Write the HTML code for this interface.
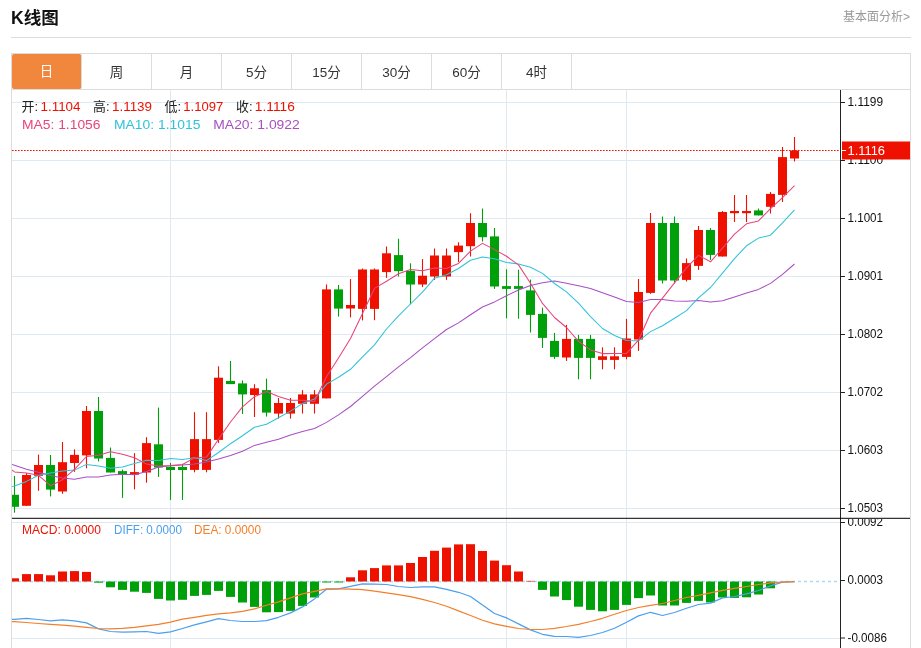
<!DOCTYPE html>
<html lang="zh-CN"><head><meta charset="utf-8"><title>K线图</title>
<style>
html,body{margin:0;padding:0;background:#fff;}
body{width:921px;height:648px;position:relative;overflow:hidden;font-family:"Liberation Sans","Noto Sans CJK SC",sans-serif;color:#333;}
.title{position:absolute;left:11px;top:7.3px;font-size:17.6px;font-weight:bold;color:#111;line-height:22px;white-space:nowrap;}
.more{position:absolute;right:11px;top:9px;font-size:12px;color:#999;line-height:16px;white-space:nowrap;}
.hr{position:absolute;left:11px;top:37px;width:900px;height:1px;background:#dcdcdc;}
.box{position:absolute;left:11px;top:53px;width:898px;height:600px;border:1px solid #dcdcdc;box-sizing:content-box;}
.tabs{position:absolute;left:12px;top:54px;width:898px;height:35px;border-bottom:1px solid #dcdcdc;display:flex;}
.tab{width:69px;height:35px;border-right:1px solid #dcdcdc;text-align:center;line-height:37.5px;font-size:13.5px;color:#333;}
.tab.on{background:#f0873c;color:#fff;border-radius:2px;line-height:36.5px;}
</style></head><body>
<div class="title">K线图</div>
<div class="more">基本面分析&gt;</div>
<div class="hr"></div>
<div class="box"></div>
<div class="tabs"><div class="tab on">日</div><div class="tab">周</div><div class="tab">月</div><div class="tab">5分</div><div class="tab">15分</div><div class="tab">30分</div><div class="tab">60分</div><div class="tab">4时</div></div>
<svg width="921" height="648" viewBox="0 0 921 648" style="position:absolute;left:0;top:0">
<defs><clipPath id="cm"><rect x="12" y="90" width="828.5" height="428"/></clipPath><clipPath id="cd"><rect x="12" y="519" width="828.5" height="129"/></clipPath><clipPath id="cl"><rect x="842" y="519" width="68" height="129"/></clipPath></defs>
<line x1="12" x2="840" y1="102.5" y2="102.5" stroke="#dfe9f1" stroke-width="1"/>
<line x1="12" x2="840" y1="160.5" y2="160.5" stroke="#dfe9f1" stroke-width="1"/>
<line x1="12" x2="840" y1="218.5" y2="218.5" stroke="#dfe9f1" stroke-width="1"/>
<line x1="12" x2="840" y1="276.5" y2="276.5" stroke="#dfe9f1" stroke-width="1"/>
<line x1="12" x2="840" y1="334.5" y2="334.5" stroke="#dfe9f1" stroke-width="1"/>
<line x1="12" x2="840" y1="392.5" y2="392.5" stroke="#dfe9f1" stroke-width="1"/>
<line x1="12" x2="840" y1="450.5" y2="450.5" stroke="#dfe9f1" stroke-width="1"/>
<line x1="12" x2="840" y1="508.5" y2="508.5" stroke="#dfe9f1" stroke-width="1"/>
<line x1="12" x2="840" y1="522.5" y2="522.5" stroke="#dfe9f1" stroke-width="1"/>
<line x1="12" x2="840" y1="638.5" y2="638.5" stroke="#dfe9f1" stroke-width="1"/>
<line x1="170.5" x2="170.5" y1="90" y2="648" stroke="#dfe9f1" stroke-width="1"/>
<line x1="506.5" x2="506.5" y1="90" y2="648" stroke="#dfe9f1" stroke-width="1"/>
<line x1="626.5" x2="626.5" y1="90" y2="648" stroke="#dfe9f1" stroke-width="1"/>
<line x1="12" x2="840" y1="581.5" y2="581.5" stroke="#a9dcf3" stroke-width="1.4" stroke-dasharray="3,3"/>
<g clip-path="url(#cm)" shape-rendering="auto">
<line x1="14.5" x2="14.5" y1="475.9" y2="512.7" stroke="#00a00a" stroke-width="1.1"/>
<rect x="10.0" y="494.8" width="9" height="12.0" fill="#00a00a"/>
<line x1="26.5" x2="26.5" y1="473.0" y2="505.8" stroke="#ee1100" stroke-width="1.1"/>
<rect x="22.0" y="475.0" width="9" height="30.8" fill="#ee1100"/>
<line x1="38.5" x2="38.5" y1="454.6" y2="490.8" stroke="#ee1100" stroke-width="1.1"/>
<rect x="34.0" y="465.0" width="9" height="10.8" fill="#ee1100"/>
<line x1="50.5" x2="50.5" y1="455.0" y2="496.4" stroke="#00a00a" stroke-width="1.1"/>
<rect x="46.0" y="465.0" width="9" height="24.6" fill="#00a00a"/>
<line x1="62.5" x2="62.5" y1="442.0" y2="493.8" stroke="#ee1100" stroke-width="1.1"/>
<rect x="58.0" y="462.2" width="9" height="29.3" fill="#ee1100"/>
<line x1="74.5" x2="74.5" y1="449.4" y2="471.9" stroke="#ee1100" stroke-width="1.1"/>
<rect x="70.0" y="454.9" width="9" height="8.1" fill="#ee1100"/>
<line x1="86.5" x2="86.5" y1="406.0" y2="468.3" stroke="#ee1100" stroke-width="1.1"/>
<rect x="82.0" y="411.0" width="9" height="44.4" fill="#ee1100"/>
<line x1="98.5" x2="98.5" y1="397.0" y2="461.5" stroke="#00a00a" stroke-width="1.1"/>
<rect x="94.0" y="411.0" width="9" height="47.5" fill="#00a00a"/>
<line x1="110.5" x2="110.5" y1="447.5" y2="472.5" stroke="#00a00a" stroke-width="1.1"/>
<rect x="106.0" y="457.9" width="9" height="14.6" fill="#00a00a"/>
<line x1="122.5" x2="122.5" y1="469.5" y2="497.9" stroke="#00a00a" stroke-width="1.1"/>
<rect x="118.0" y="471.1" width="9" height="3.2" fill="#00a00a"/>
<line x1="134.5" x2="134.5" y1="453.1" y2="489.3" stroke="#ee1100" stroke-width="1.1"/>
<rect x="130.0" y="472.1" width="9" height="2.6" fill="#ee1100"/>
<line x1="146.5" x2="146.5" y1="437.2" y2="482.7" stroke="#ee1100" stroke-width="1.1"/>
<rect x="142.0" y="443.1" width="9" height="29.4" fill="#ee1100"/>
<line x1="158.5" x2="158.5" y1="407.6" y2="476.9" stroke="#00a00a" stroke-width="1.1"/>
<rect x="154.0" y="444.3" width="9" height="23.2" fill="#00a00a"/>
<line x1="170.5" x2="170.5" y1="462.9" y2="499.9" stroke="#00a00a" stroke-width="1.1"/>
<rect x="166.0" y="466.9" width="9" height="3.1" fill="#00a00a"/>
<line x1="182.5" x2="182.5" y1="463.9" y2="499.9" stroke="#00a00a" stroke-width="1.1"/>
<rect x="178.0" y="466.9" width="9" height="3.1" fill="#00a00a"/>
<line x1="194.5" x2="194.5" y1="412.2" y2="472.3" stroke="#ee1100" stroke-width="1.1"/>
<rect x="190.0" y="439.1" width="9" height="30.8" fill="#ee1100"/>
<line x1="206.5" x2="206.5" y1="412.2" y2="472.3" stroke="#ee1100" stroke-width="1.1"/>
<rect x="202.0" y="439.1" width="9" height="30.8" fill="#ee1100"/>
<line x1="218.5" x2="218.5" y1="366.3" y2="442.9" stroke="#ee1100" stroke-width="1.1"/>
<rect x="214.0" y="377.7" width="9" height="62.2" fill="#ee1100"/>
<line x1="230.5" x2="230.5" y1="360.9" y2="384.1" stroke="#00a00a" stroke-width="1.1"/>
<rect x="226.0" y="380.9" width="9" height="3.2" fill="#00a00a"/>
<line x1="242.5" x2="242.5" y1="380.4" y2="414.0" stroke="#00a00a" stroke-width="1.1"/>
<rect x="238.0" y="383.4" width="9" height="11.0" fill="#00a00a"/>
<line x1="254.5" x2="254.5" y1="384.2" y2="417.0" stroke="#ee1100" stroke-width="1.1"/>
<rect x="250.0" y="388.3" width="9" height="6.7" fill="#ee1100"/>
<line x1="266.5" x2="266.5" y1="378.6" y2="416.6" stroke="#00a00a" stroke-width="1.1"/>
<rect x="262.0" y="390.1" width="9" height="22.5" fill="#00a00a"/>
<line x1="278.5" x2="278.5" y1="398.0" y2="418.6" stroke="#ee1100" stroke-width="1.1"/>
<rect x="274.0" y="403.0" width="9" height="10.6" fill="#ee1100"/>
<line x1="290.5" x2="290.5" y1="398.0" y2="418.6" stroke="#ee1100" stroke-width="1.1"/>
<rect x="286.0" y="403.0" width="9" height="10.6" fill="#ee1100"/>
<line x1="302.5" x2="302.5" y1="390.1" y2="413.6" stroke="#ee1100" stroke-width="1.1"/>
<rect x="298.0" y="394.4" width="9" height="9.4" fill="#ee1100"/>
<line x1="314.5" x2="314.5" y1="390.1" y2="413.6" stroke="#ee1100" stroke-width="1.1"/>
<rect x="310.0" y="394.4" width="9" height="9.4" fill="#ee1100"/>
<line x1="326.5" x2="326.5" y1="284.4" y2="398.4" stroke="#ee1100" stroke-width="1.1"/>
<rect x="322.0" y="289.4" width="9" height="109.0" fill="#ee1100"/>
<line x1="338.5" x2="338.5" y1="285.0" y2="316.6" stroke="#00a00a" stroke-width="1.1"/>
<rect x="334.0" y="289.4" width="9" height="19.2" fill="#00a00a"/>
<line x1="350.5" x2="350.5" y1="279.1" y2="317.4" stroke="#ee1100" stroke-width="1.1"/>
<rect x="346.0" y="305.0" width="9" height="3.5" fill="#ee1100"/>
<line x1="362.5" x2="362.5" y1="268.5" y2="320.4" stroke="#ee1100" stroke-width="1.1"/>
<rect x="358.0" y="269.5" width="9" height="39.4" fill="#ee1100"/>
<line x1="374.5" x2="374.5" y1="268.5" y2="320.2" stroke="#ee1100" stroke-width="1.1"/>
<rect x="370.0" y="269.5" width="9" height="39.4" fill="#ee1100"/>
<line x1="386.5" x2="386.5" y1="246.6" y2="277.9" stroke="#ee1100" stroke-width="1.1"/>
<rect x="382.0" y="253.3" width="9" height="18.8" fill="#ee1100"/>
<line x1="398.5" x2="398.5" y1="238.8" y2="276.5" stroke="#00a00a" stroke-width="1.1"/>
<rect x="394.0" y="255.1" width="9" height="16.0" fill="#00a00a"/>
<line x1="410.5" x2="410.5" y1="263.3" y2="304.3" stroke="#00a00a" stroke-width="1.1"/>
<rect x="406.0" y="270.9" width="9" height="13.6" fill="#00a00a"/>
<line x1="422.5" x2="422.5" y1="259.1" y2="287.1" stroke="#ee1100" stroke-width="1.1"/>
<rect x="418.0" y="275.7" width="9" height="8.8" fill="#ee1100"/>
<line x1="434.5" x2="434.5" y1="248.4" y2="279.9" stroke="#ee1100" stroke-width="1.1"/>
<rect x="430.0" y="255.5" width="9" height="21.0" fill="#ee1100"/>
<line x1="446.5" x2="446.5" y1="248.4" y2="279.9" stroke="#ee1100" stroke-width="1.1"/>
<rect x="442.0" y="255.5" width="9" height="21.0" fill="#ee1100"/>
<line x1="458.5" x2="458.5" y1="242.2" y2="261.9" stroke="#ee1100" stroke-width="1.1"/>
<rect x="454.0" y="245.6" width="9" height="6.5" fill="#ee1100"/>
<line x1="470.5" x2="470.5" y1="213.2" y2="256.5" stroke="#ee1100" stroke-width="1.1"/>
<rect x="466.0" y="223.0" width="9" height="23.2" fill="#ee1100"/>
<line x1="482.5" x2="482.5" y1="208.4" y2="241.4" stroke="#00a00a" stroke-width="1.1"/>
<rect x="478.0" y="223.0" width="9" height="14.2" fill="#00a00a"/>
<line x1="494.5" x2="494.5" y1="228.0" y2="288.9" stroke="#00a00a" stroke-width="1.1"/>
<rect x="490.0" y="236.4" width="9" height="50.1" fill="#00a00a"/>
<line x1="506.5" x2="506.5" y1="269.3" y2="318.3" stroke="#00a00a" stroke-width="1.1"/>
<rect x="502.0" y="286.1" width="9" height="2.8" fill="#00a00a"/>
<line x1="518.5" x2="518.5" y1="269.7" y2="318.7" stroke="#00a00a" stroke-width="1.1"/>
<rect x="514.0" y="286.1" width="9" height="2.8" fill="#00a00a"/>
<line x1="530.5" x2="530.5" y1="279.6" y2="332.5" stroke="#00a00a" stroke-width="1.1"/>
<rect x="526.0" y="290.4" width="9" height="24.5" fill="#00a00a"/>
<line x1="542.5" x2="542.5" y1="307.6" y2="347.9" stroke="#00a00a" stroke-width="1.1"/>
<rect x="538.0" y="313.9" width="9" height="24.0" fill="#00a00a"/>
<line x1="554.5" x2="554.5" y1="332.9" y2="358.9" stroke="#00a00a" stroke-width="1.1"/>
<rect x="550.0" y="340.9" width="9" height="16.0" fill="#00a00a"/>
<line x1="566.5" x2="566.5" y1="324.9" y2="360.9" stroke="#ee1100" stroke-width="1.1"/>
<rect x="562.0" y="338.9" width="9" height="18.6" fill="#ee1100"/>
<line x1="578.5" x2="578.5" y1="334.9" y2="379.3" stroke="#00a00a" stroke-width="1.1"/>
<rect x="574.0" y="338.9" width="9" height="19.0" fill="#00a00a"/>
<line x1="590.5" x2="590.5" y1="334.9" y2="379.3" stroke="#00a00a" stroke-width="1.1"/>
<rect x="586.0" y="338.9" width="9" height="19.0" fill="#00a00a"/>
<line x1="602.5" x2="602.5" y1="347.3" y2="369.3" stroke="#ee1100" stroke-width="1.1"/>
<rect x="598.0" y="356.3" width="9" height="3.6" fill="#ee1100"/>
<line x1="614.5" x2="614.5" y1="347.3" y2="369.3" stroke="#ee1100" stroke-width="1.1"/>
<rect x="610.0" y="356.3" width="9" height="3.6" fill="#ee1100"/>
<line x1="626.5" x2="626.5" y1="318.9" y2="359.3" stroke="#ee1100" stroke-width="1.1"/>
<rect x="622.0" y="338.5" width="9" height="18.4" fill="#ee1100"/>
<line x1="638.5" x2="638.5" y1="279.0" y2="350.9" stroke="#ee1100" stroke-width="1.1"/>
<rect x="634.0" y="292.0" width="9" height="47.5" fill="#ee1100"/>
<line x1="650.5" x2="650.5" y1="213.0" y2="293.9" stroke="#ee1100" stroke-width="1.1"/>
<rect x="646.0" y="223.0" width="9" height="69.9" fill="#ee1100"/>
<line x1="662.5" x2="662.5" y1="216.4" y2="283.5" stroke="#00a00a" stroke-width="1.1"/>
<rect x="658.0" y="223.0" width="9" height="57.5" fill="#00a00a"/>
<line x1="674.5" x2="674.5" y1="216.4" y2="283.5" stroke="#00a00a" stroke-width="1.1"/>
<rect x="670.0" y="223.0" width="9" height="57.5" fill="#00a00a"/>
<line x1="686.5" x2="686.5" y1="258.5" y2="281.5" stroke="#ee1100" stroke-width="1.1"/>
<rect x="682.0" y="263.1" width="9" height="16.8" fill="#ee1100"/>
<line x1="698.5" x2="698.5" y1="226.0" y2="269.9" stroke="#ee1100" stroke-width="1.1"/>
<rect x="694.0" y="230.0" width="9" height="35.9" fill="#ee1100"/>
<line x1="710.5" x2="710.5" y1="228.0" y2="259.9" stroke="#00a00a" stroke-width="1.1"/>
<rect x="706.0" y="230.0" width="9" height="24.9" fill="#00a00a"/>
<line x1="722.5" x2="722.5" y1="211.0" y2="256.5" stroke="#ee1100" stroke-width="1.1"/>
<rect x="718.0" y="212.0" width="9" height="44.5" fill="#ee1100"/>
<line x1="734.5" x2="734.5" y1="195.0" y2="222.0" stroke="#ee1100" stroke-width="1.1"/>
<rect x="730.0" y="211.0" width="9" height="2.2" fill="#ee1100"/>
<line x1="746.5" x2="746.5" y1="195.0" y2="222.0" stroke="#ee1100" stroke-width="1.1"/>
<rect x="742.0" y="211.0" width="9" height="2.2" fill="#ee1100"/>
<line x1="758.5" x2="758.5" y1="208.4" y2="215.4" stroke="#00a00a" stroke-width="1.1"/>
<rect x="754.0" y="210.4" width="9" height="5.0" fill="#00a00a"/>
<line x1="770.5" x2="770.5" y1="191.9" y2="213.4" stroke="#ee1100" stroke-width="1.1"/>
<rect x="766.0" y="193.9" width="9" height="12.9" fill="#ee1100"/>
<line x1="782.5" x2="782.5" y1="146.9" y2="201.9" stroke="#ee1100" stroke-width="1.1"/>
<rect x="778.0" y="157.1" width="9" height="37.8" fill="#ee1100"/>
<line x1="794.5" x2="794.5" y1="137.0" y2="161.5" stroke="#ee1100" stroke-width="1.1"/>
<rect x="790.0" y="150.5" width="9" height="8.0" fill="#ee1100"/>
<polyline points="2.5,461.6 14.5,465.2 26.5,469.2 38.5,472.3 50.5,475.6 62.5,478.0 74.5,479.2 86.5,477.0 98.5,476.9 110.5,474.9 122.5,474.3 134.5,474.7 146.5,471.5 158.5,466.9 170.5,465.7 182.5,465.0 194.5,463.9 206.5,461.9 218.5,458.9 230.5,455.5 242.5,451.3 254.5,445.4 266.5,442.3 278.5,439.2 290.5,434.9 302.5,431.5 314.5,428.5 326.5,422.4 338.5,414.9 350.5,406.5 362.5,396.3 374.5,386.1 386.5,376.6 398.5,366.8 410.5,357.6 422.5,347.8 434.5,338.7 446.5,329.5 458.5,322.9 470.5,314.8 482.5,307.0 494.5,301.9 506.5,295.7 518.5,290.0 530.5,285.6 542.5,282.7 554.5,280.9 566.5,283.3 578.5,285.8 590.5,288.5 602.5,292.8 614.5,297.1 626.5,301.4 638.5,302.4 650.5,299.4 662.5,299.6 674.5,300.9 686.5,301.2 698.5,300.5 710.5,302.1 722.5,300.8 734.5,297.0 746.5,293.1 758.5,289.4 770.5,283.4 782.5,274.4 794.5,264.0" fill="none" stroke="#a84fc4" stroke-width="1.05" stroke-linejoin="round"/>
<polyline points="2.5,487.9 14.5,486.1 26.5,481.4 38.5,475.3 50.5,473.1 62.5,471.1 74.5,470.1 86.5,464.4 98.5,465.9 110.5,468.3 122.5,467.0 134.5,463.5 146.5,460.3 158.5,460.6 170.5,458.6 182.5,459.4 194.5,457.8 206.5,460.6 218.5,452.5 230.5,443.7 242.5,435.7 254.5,427.3 266.5,424.3 278.5,417.8 290.5,411.1 302.5,403.6 314.5,399.1 326.5,384.1 338.5,377.2 350.5,369.3 362.5,356.8 374.5,344.9 386.5,329.0 398.5,315.8 410.5,304.0 422.5,292.1 434.5,278.2 446.5,274.8 458.5,268.5 470.5,260.3 482.5,257.1 494.5,258.8 506.5,262.4 518.5,264.1 530.5,267.2 542.5,273.4 554.5,283.5 566.5,291.9 578.5,303.1 590.5,316.6 602.5,328.5 614.5,335.5 626.5,340.4 638.5,340.8 650.5,331.6 662.5,325.8 674.5,318.2 686.5,310.6 698.5,297.8 710.5,287.5 722.5,273.1 734.5,258.6 746.5,245.8 758.5,238.1 770.5,235.2 782.5,222.9 794.5,209.9" fill="none" stroke="#2fc3da" stroke-width="1.05" stroke-linejoin="round"/>
<polyline points="2.5,463.9 14.5,471.9 26.5,472.9 38.5,475.3 50.5,485.7 62.5,479.7 74.5,469.3 86.5,456.5 98.5,455.2 110.5,451.8 122.5,454.2 134.5,457.7 146.5,464.1 158.5,465.9 170.5,465.4 182.5,464.5 194.5,457.9 206.5,457.1 218.5,439.2 230.5,422.0 242.5,406.9 254.5,396.7 266.5,391.4 278.5,396.5 290.5,400.3 302.5,400.3 314.5,401.5 326.5,376.8 338.5,358.0 350.5,338.4 362.5,313.4 374.5,288.4 386.5,281.2 398.5,273.7 410.5,269.6 422.5,270.8 434.5,268.0 446.5,268.5 458.5,263.4 470.5,251.1 482.5,243.4 494.5,249.6 506.5,256.2 518.5,264.9 530.5,283.3 542.5,303.4 554.5,317.5 566.5,327.5 578.5,341.3 590.5,349.9 602.5,353.6 614.5,353.5 626.5,353.4 638.5,340.2 650.5,313.2 662.5,298.1 674.5,282.9 686.5,267.8 698.5,255.4 710.5,261.8 722.5,248.1 734.5,234.2 746.5,223.8 758.5,220.9 770.5,208.7 782.5,197.7 794.5,185.6" fill="none" stroke="#e8437c" stroke-width="1.05" stroke-linejoin="round"/>
</g>
<line x1="12" x2="840" y1="150.5" y2="150.5" stroke="#ee1100" stroke-width="1" stroke-dasharray="1.6,1.4"/>
<g clip-path="url(#cd)">
<rect x="10.0" y="578.3" width="9" height="3.2" fill="#ee1100"/>
<rect x="22.0" y="574.1" width="9" height="7.4" fill="#ee1100"/>
<rect x="34.0" y="574.1" width="9" height="7.4" fill="#ee1100"/>
<rect x="46.0" y="575.3" width="9" height="6.2" fill="#ee1100"/>
<rect x="58.0" y="571.5" width="9" height="10.0" fill="#ee1100"/>
<rect x="70.0" y="571.1" width="9" height="10.4" fill="#ee1100"/>
<rect x="82.0" y="571.9" width="9" height="9.6" fill="#ee1100"/>
<rect x="94.0" y="581.5" width="9" height="1.2" fill="#00a00a"/>
<rect x="106.0" y="581.5" width="9" height="5.8" fill="#00a00a"/>
<rect x="118.0" y="581.5" width="9" height="8.4" fill="#00a00a"/>
<rect x="130.0" y="581.5" width="9" height="10.2" fill="#00a00a"/>
<rect x="142.0" y="581.5" width="9" height="11.4" fill="#00a00a"/>
<rect x="154.0" y="581.5" width="9" height="17.4" fill="#00a00a"/>
<rect x="166.0" y="581.5" width="9" height="19.0" fill="#00a00a"/>
<rect x="178.0" y="581.5" width="9" height="18.3" fill="#00a00a"/>
<rect x="190.0" y="581.5" width="9" height="14.4" fill="#00a00a"/>
<rect x="202.0" y="581.5" width="9" height="13.4" fill="#00a00a"/>
<rect x="214.0" y="581.5" width="9" height="9.4" fill="#00a00a"/>
<rect x="226.0" y="581.5" width="9" height="15.4" fill="#00a00a"/>
<rect x="238.0" y="581.5" width="9" height="21.0" fill="#00a00a"/>
<rect x="250.0" y="581.5" width="9" height="25.4" fill="#00a00a"/>
<rect x="262.0" y="581.5" width="9" height="30.8" fill="#00a00a"/>
<rect x="274.0" y="581.5" width="9" height="30.6" fill="#00a00a"/>
<rect x="286.0" y="581.5" width="9" height="29.4" fill="#00a00a"/>
<rect x="298.0" y="581.5" width="9" height="24.4" fill="#00a00a"/>
<rect x="310.0" y="581.5" width="9" height="16.0" fill="#00a00a"/>
<rect x="322.0" y="581.5" width="9" height="1.0" fill="#00a00a"/>
<rect x="334.0" y="581.5" width="9" height="1.0" fill="#00a00a"/>
<rect x="346.0" y="577.3" width="9" height="4.2" fill="#ee1100"/>
<rect x="358.0" y="570.3" width="9" height="11.2" fill="#ee1100"/>
<rect x="370.0" y="568.1" width="9" height="13.4" fill="#ee1100"/>
<rect x="382.0" y="565.4" width="9" height="16.1" fill="#ee1100"/>
<rect x="394.0" y="565.4" width="9" height="16.1" fill="#ee1100"/>
<rect x="406.0" y="563.0" width="9" height="18.5" fill="#ee1100"/>
<rect x="418.0" y="557.0" width="9" height="24.5" fill="#ee1100"/>
<rect x="430.0" y="550.8" width="9" height="30.7" fill="#ee1100"/>
<rect x="442.0" y="547.6" width="9" height="33.9" fill="#ee1100"/>
<rect x="454.0" y="544.4" width="9" height="37.1" fill="#ee1100"/>
<rect x="466.0" y="544.2" width="9" height="37.3" fill="#ee1100"/>
<rect x="478.0" y="551.0" width="9" height="30.5" fill="#ee1100"/>
<rect x="490.0" y="560.6" width="9" height="20.9" fill="#ee1100"/>
<rect x="502.0" y="565.2" width="9" height="16.3" fill="#ee1100"/>
<rect x="514.0" y="571.5" width="9" height="10.0" fill="#ee1100"/>
<rect x="526.0" y="580.9" width="9" height="0.6" fill="#ee1100"/>
<rect x="538.0" y="581.5" width="9" height="8.4" fill="#00a00a"/>
<rect x="550.0" y="581.5" width="9" height="15.0" fill="#00a00a"/>
<rect x="562.0" y="581.5" width="9" height="18.6" fill="#00a00a"/>
<rect x="574.0" y="581.5" width="9" height="25.2" fill="#00a00a"/>
<rect x="586.0" y="581.5" width="9" height="28.4" fill="#00a00a"/>
<rect x="598.0" y="581.5" width="9" height="29.8" fill="#00a00a"/>
<rect x="610.0" y="581.5" width="9" height="28.4" fill="#00a00a"/>
<rect x="622.0" y="581.5" width="9" height="23.4" fill="#00a00a"/>
<rect x="634.0" y="581.5" width="9" height="16.6" fill="#00a00a"/>
<rect x="646.0" y="581.5" width="9" height="14.0" fill="#00a00a"/>
<rect x="658.0" y="581.5" width="9" height="24.0" fill="#00a00a"/>
<rect x="670.0" y="581.5" width="9" height="24.0" fill="#00a00a"/>
<rect x="682.0" y="581.5" width="9" height="21.4" fill="#00a00a"/>
<rect x="694.0" y="581.5" width="9" height="19.4" fill="#00a00a"/>
<rect x="706.0" y="581.5" width="9" height="21.0" fill="#00a00a"/>
<rect x="718.0" y="581.5" width="9" height="16.0" fill="#00a00a"/>
<rect x="730.0" y="581.5" width="9" height="16.4" fill="#00a00a"/>
<rect x="742.0" y="581.5" width="9" height="15.8" fill="#00a00a"/>
<rect x="754.0" y="581.5" width="9" height="13.0" fill="#00a00a"/>
<rect x="766.0" y="581.5" width="9" height="6.8" fill="#00a00a"/>
<polyline points="2.5,620.1 14.5,619.3 26.5,618.3 38.5,619.5 50.5,620.9 62.5,619.9 74.5,620.9 86.5,622.9 98.5,628.9 110.5,631.5 122.5,632.1 134.5,631.9 146.5,631.5 158.5,633.3 170.5,631.9 182.5,628.5 194.5,624.9 206.5,621.9 218.5,618.7 230.5,620.5 242.5,621.5 254.5,621.5 266.5,620.7 278.5,617.3 290.5,612.9 302.5,606.9 314.5,598.9 326.5,589.3 338.5,588.9 350.5,586.3 362.5,583.9 374.5,584.1 386.5,584.5 398.5,586.5 410.5,587.5 422.5,586.9 434.5,586.9 446.5,589.3 458.5,592.3 470.5,596.5 482.5,604.9 494.5,613.5 506.5,617.9 518.5,623.9 530.5,629.9 542.5,634.3 554.5,636.3 566.5,636.5 578.5,637.3 590.5,635.5 602.5,632.5 614.5,628.3 626.5,622.3 638.5,615.9 650.5,612.3 662.5,615.5 674.5,612.5 686.5,608.3 698.5,604.5 710.5,603.1 722.5,597.9 734.5,596.5 746.5,593.9 758.5,590.5 770.5,585.9 782.5,582.1 794.5,581.7" fill="none" stroke="#4b9ff0" stroke-width="1.2" stroke-linejoin="round"/>
<polyline points="2.5,621.3 14.5,621.7 26.5,622.5 38.5,623.5 50.5,624.3 62.5,625.1 74.5,626.1 86.5,627.3 98.5,628.5 110.5,628.9 122.5,628.3 134.5,627.3 146.5,625.9 158.5,624.3 170.5,622.1 182.5,619.2 194.5,617.3 206.5,615.3 218.5,613.9 230.5,612.9 242.5,611.3 254.5,608.9 266.5,605.3 278.5,601.9 290.5,597.9 302.5,593.9 314.5,591.3 326.5,588.9 338.5,588.9 350.5,589.1 362.5,589.7 374.5,591.1 386.5,592.9 398.5,594.7 410.5,596.7 422.5,599.3 434.5,602.5 446.5,606.3 458.5,610.9 470.5,615.5 482.5,620.3 494.5,623.9 506.5,626.3 518.5,628.5 530.5,629.5 542.5,629.5 554.5,628.3 566.5,626.5 578.5,624.3 590.5,621.5 602.5,618.3 614.5,614.3 626.5,610.5 638.5,607.5 650.5,605.3 662.5,603.5 674.5,600.5 686.5,597.5 698.5,595.3 710.5,592.9 722.5,590.3 734.5,588.3 746.5,586.5 758.5,584.5 770.5,582.9 782.5,582.1 794.5,581.7" fill="none" stroke="#f47f2a" stroke-width="1.2" stroke-linejoin="round"/>
</g>
<line x1="840.5" x2="840.5" y1="90" y2="648" stroke="#222" stroke-width="1"/>
<line x1="12" x2="910" y1="518.3" y2="518.3" stroke="#000" stroke-width="1"/>
<line x1="840" x2="845" y1="102.5" y2="102.5" stroke="#222" stroke-width="1"/>
<text x="847.5" y="106.3" font-family="Liberation Sans, sans-serif" font-size="12.5" fill="#111" textLength="35.5" lengthAdjust="spacingAndGlyphs">1.1199</text>
<line x1="840" x2="845" y1="160.5" y2="160.5" stroke="#222" stroke-width="1"/>
<text x="847.5" y="164.3" font-family="Liberation Sans, sans-serif" font-size="12.5" fill="#111" textLength="35.5" lengthAdjust="spacingAndGlyphs">1.1100</text>
<line x1="840" x2="845" y1="218.5" y2="218.5" stroke="#222" stroke-width="1"/>
<text x="847.5" y="222.3" font-family="Liberation Sans, sans-serif" font-size="12.5" fill="#111" textLength="35.5" lengthAdjust="spacingAndGlyphs">1.1001</text>
<line x1="840" x2="845" y1="276.5" y2="276.5" stroke="#222" stroke-width="1"/>
<text x="847.5" y="280.3" font-family="Liberation Sans, sans-serif" font-size="12.5" fill="#111" textLength="35.5" lengthAdjust="spacingAndGlyphs">1.0901</text>
<line x1="840" x2="845" y1="334.5" y2="334.5" stroke="#222" stroke-width="1"/>
<text x="847.5" y="338.3" font-family="Liberation Sans, sans-serif" font-size="12.5" fill="#111" textLength="35.5" lengthAdjust="spacingAndGlyphs">1.0802</text>
<line x1="840" x2="845" y1="392.5" y2="392.5" stroke="#222" stroke-width="1"/>
<text x="847.5" y="396.3" font-family="Liberation Sans, sans-serif" font-size="12.5" fill="#111" textLength="35.5" lengthAdjust="spacingAndGlyphs">1.0702</text>
<line x1="840" x2="845" y1="450.5" y2="450.5" stroke="#222" stroke-width="1"/>
<text x="847.5" y="454.3" font-family="Liberation Sans, sans-serif" font-size="12.5" fill="#111" textLength="35.5" lengthAdjust="spacingAndGlyphs">1.0603</text>
<line x1="840" x2="845" y1="508.5" y2="508.5" stroke="#222" stroke-width="1"/>
<text x="847.5" y="512.3" font-family="Liberation Sans, sans-serif" font-size="12.5" fill="#111" textLength="35.5" lengthAdjust="spacingAndGlyphs">1.0503</text>
<g clip-path="url(#cl)">
<text x="847.5" y="526.3" font-family="Liberation Sans, sans-serif" font-size="12.5" fill="#111" textLength="35.5" lengthAdjust="spacingAndGlyphs">0.0092</text>
<text x="847.5" y="584.3" font-family="Liberation Sans, sans-serif" font-size="12.5" fill="#111" textLength="35.5" lengthAdjust="spacingAndGlyphs">0.0003</text>
<text x="847.5" y="641.8" font-family="Liberation Sans, sans-serif" font-size="12.5" fill="#111" textLength="39.5" lengthAdjust="spacingAndGlyphs">-0.0086</text>
</g>
<line x1="840" x2="845" y1="522.5" y2="522.5" stroke="#222" stroke-width="1"/>
<line x1="840" x2="845" y1="580.5" y2="580.5" stroke="#222" stroke-width="1"/>
<line x1="840" x2="845" y1="638.0" y2="638.0" stroke="#222" stroke-width="1"/>
<rect x="842" y="141.5" width="68" height="18" fill="#ee1100"/>
<line x1="842" x2="846" y1="150.5" y2="150.5" stroke="#fff" stroke-width="1"/>
<text x="847.5" y="155" font-family="Liberation Sans, sans-serif" font-size="12.5" fill="#fff" textLength="37.5" lengthAdjust="spacingAndGlyphs">1.1116</text>
<text x="21.5" y="110.8" font-family="Liberation Sans, Noto Sans CJK SC, sans-serif" font-size="13" fill="#222" textLength="16.5" lengthAdjust="spacingAndGlyphs">开:</text>
<text x="40.5" y="110.8" font-family="Liberation Sans, Noto Sans CJK SC, sans-serif" font-size="13" fill="#ee1100" textLength="40" lengthAdjust="spacingAndGlyphs">1.1104</text>
<text x="93" y="110.8" font-family="Liberation Sans, Noto Sans CJK SC, sans-serif" font-size="13" fill="#222" textLength="16.5" lengthAdjust="spacingAndGlyphs">高:</text>
<text x="112.0" y="110.8" font-family="Liberation Sans, Noto Sans CJK SC, sans-serif" font-size="13" fill="#ee1100" textLength="40" lengthAdjust="spacingAndGlyphs">1.1139</text>
<text x="164.5" y="110.8" font-family="Liberation Sans, Noto Sans CJK SC, sans-serif" font-size="13" fill="#222" textLength="16.5" lengthAdjust="spacingAndGlyphs">低:</text>
<text x="183.3" y="110.8" font-family="Liberation Sans, Noto Sans CJK SC, sans-serif" font-size="13" fill="#ee1100" textLength="40" lengthAdjust="spacingAndGlyphs">1.1097</text>
<text x="236" y="110.8" font-family="Liberation Sans, Noto Sans CJK SC, sans-serif" font-size="13" fill="#222" textLength="16.5" lengthAdjust="spacingAndGlyphs">收:</text>
<text x="254.8" y="110.8" font-family="Liberation Sans, Noto Sans CJK SC, sans-serif" font-size="13" fill="#ee1100" textLength="40" lengthAdjust="spacingAndGlyphs">1.1116</text>
<text x="22" y="128.8" font-family="Liberation Sans, sans-serif" font-size="13" fill="#e8437c" textLength="78.5" lengthAdjust="spacingAndGlyphs">MA5: 1.1056</text>
<text x="114" y="128.8" font-family="Liberation Sans, sans-serif" font-size="13" fill="#2fc3da" textLength="86.5" lengthAdjust="spacingAndGlyphs">MA10: 1.1015</text>
<text x="213.3" y="128.8" font-family="Liberation Sans, sans-serif" font-size="13" fill="#a84fc4" textLength="86.5" lengthAdjust="spacingAndGlyphs">MA20: 1.0922</text>
<text x="22" y="534" font-family="Liberation Sans, sans-serif" font-size="12.5" fill="#ee1100" textLength="79" lengthAdjust="spacingAndGlyphs">MACD: 0.0000</text>
<text x="114" y="534" font-family="Liberation Sans, sans-serif" font-size="12.5" fill="#4b9ff0" textLength="68" lengthAdjust="spacingAndGlyphs">DIFF: 0.0000</text>
<text x="194" y="534" font-family="Liberation Sans, sans-serif" font-size="12.5" fill="#f47f2a" textLength="67" lengthAdjust="spacingAndGlyphs">DEA: 0.0000</text>
</svg>
</body></html>
